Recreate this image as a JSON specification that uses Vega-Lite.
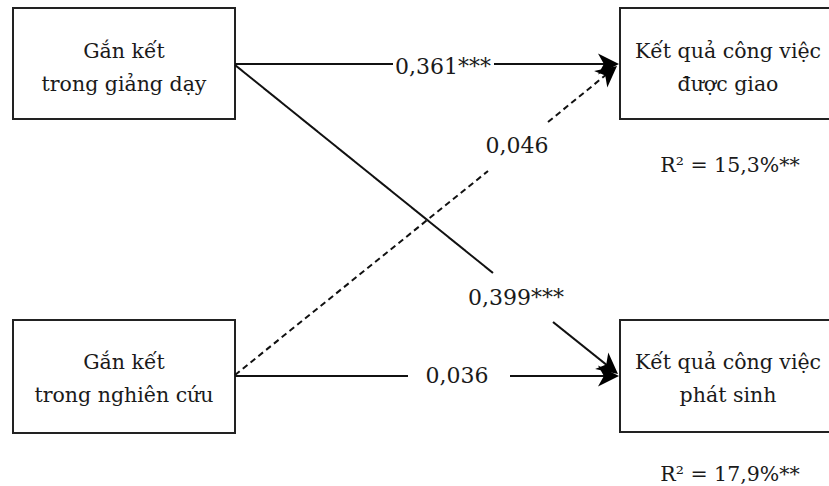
{
  "$schema": "https://vega.github.io/schema/vega-lite/v6.json",
  "width": 829,
  "height": 486,
  "padding": 0,
  "autosize": {"type": "none"},
  "background": "white",
  "config": {"view": {"stroke": null}},
  "datasets": {
    "boxes": [
      {"box": "Gắn kết trong giảng dạy", "x0": 13, "x1": 235, "y0": 8, "y1": 119},
      {"box": "Gắn kết trong nghiên cứu", "x0": 13, "x1": 235, "y0": 320, "y1": 433},
      {"box": "Kết quả công việc được giao", "x0": 620, "x1": 1000, "y0": 8, "y1": 119},
      {"box": "Kết quả công việc phát sinh", "x0": 620, "x1": 1000, "y0": 320, "y1": 432}
    ],
    "boxText": [
      {"t": "Gắn kết", "x": 124, "y": 58},
      {"t": "trong giảng dạy", "x": 124, "y": 91},
      {"t": "Gắn kết", "x": 124, "y": 369},
      {"t": "trong nghiên cứu", "x": 124, "y": 402},
      {"t": "Kết quả công việc", "x": 728, "y": 58},
      {"t": "được giao", "x": 728, "y": 91},
      {"t": "Kết quả công việc", "x": 728, "y": 369},
      {"t": "phát sinh", "x": 728, "y": 402},
      {"t": "R² = 15,3%**", "x": 730, "y": 172},
      {"t": "R² = 17,9%**", "x": 730, "y": 481}
    ],
    "segments": [
      {"path": "GD→GIAO", "sig": "yes", "xa": 235, "ya": 64, "xb": 393, "yb": 64},
      {"path": "GD→GIAO", "sig": "yes", "xa": 494, "ya": 64, "xb": 606, "yb": 64},
      {"path": "GD→PS", "sig": "yes", "xa": 235, "ya": 65, "xb": 493, "yb": 273},
      {"path": "GD→PS", "sig": "yes", "xa": 553, "ya": 322, "xb": 608, "yb": 366},
      {"path": "NC→PS", "sig": "yes", "xa": 235, "ya": 376, "xb": 408, "yb": 376},
      {"path": "NC→PS", "sig": "yes", "xa": 510, "ya": 376, "xb": 606, "yb": 376},
      {"path": "NC→GIAO", "sig": "no", "xa": 235, "ya": 375, "xb": 488, "yb": 171},
      {"path": "NC→GIAO", "sig": "no", "xa": 548, "ya": 122, "xb": 607, "yb": 74}
    ],
    "heads": [
      {"path": "GD→GIAO", "x": 619, "y": 64, "dir": 0},
      {"path": "GD→PS", "x": 618, "y": 374, "dir": 39},
      {"path": "NC→GIAO", "x": 617, "y": 66, "dir": -39},
      {"path": "NC→PS", "x": 619, "y": 376, "dir": 0}
    ],
    "coef": [
      {"t": "0,361***", "x": 443, "y": 74},
      {"t": "0,046", "x": 517, "y": 153},
      {"t": "0,399***", "x": 516, "y": 305},
      {"t": "0,036", "x": 457, "y": 383}
    ]
  },
  "layer": [
    {
      "data": {"name": "boxes"},
      "mark": {"type": "rect", "fill": "white", "stroke": "#222222", "strokeWidth": 2},
      "encoding": {
        "x": {"field": "x0", "type": "quantitative", "scale": {"domain": [0, 829], "nice": false, "zero": false}, "axis": null},
        "x2": {"field": "x1"},
        "y": {"field": "y0", "type": "quantitative", "scale": {"domain": [0, 486], "nice": false, "zero": false, "reverse": true}, "axis": null},
        "y2": {"field": "y1"}
      }
    },
    {
      "data": {"name": "segments"},
      "mark": {"type": "rule", "color": "#111111", "strokeWidth": 2},
      "encoding": {
        "x": {"field": "xa", "type": "quantitative"},
        "x2": {"field": "xb"},
        "y": {"field": "ya", "type": "quantitative"},
        "y2": {"field": "yb"},
        "strokeDash": {"field": "sig", "type": "nominal", "scale": {"domain": ["yes", "no"], "range": [[1, 0], [6, 4]]}, "legend": null}
      }
    },
    {
      "data": {"name": "heads"},
      "mark": {"type": "point", "shape": "M 0 0 L -1 -0.5 L -0.72 0 L -1 0.5 Z", "filled": true, "color": "#000000", "opacity": 1, "size": 1764, "strokeWidth": 0},
      "encoding": {
        "x": {"field": "x", "type": "quantitative"},
        "y": {"field": "y", "type": "quantitative"},
        "angle": {"field": "dir", "type": "quantitative", "scale": null}
      }
    },
    {
      "data": {"name": "coef"},
      "mark": {"type": "text", "font": "DejaVu Serif", "fontSize": 22, "align": "center", "baseline": "alphabetic", "color": "#1a1a1a"},
      "encoding": {
        "x": {"field": "x", "type": "quantitative"},
        "y": {"field": "y", "type": "quantitative"},
        "text": {"field": "t"}
      }
    },
    {
      "data": {"name": "boxText"},
      "mark": {"type": "text", "font": "DejaVu Serif", "fontSize": 20.5, "align": "center", "baseline": "alphabetic", "color": "#1a1a1a"},
      "encoding": {
        "x": {"field": "x", "type": "quantitative"},
        "y": {"field": "y", "type": "quantitative"},
        "text": {"field": "t"}
      }
    }
  ]
}
